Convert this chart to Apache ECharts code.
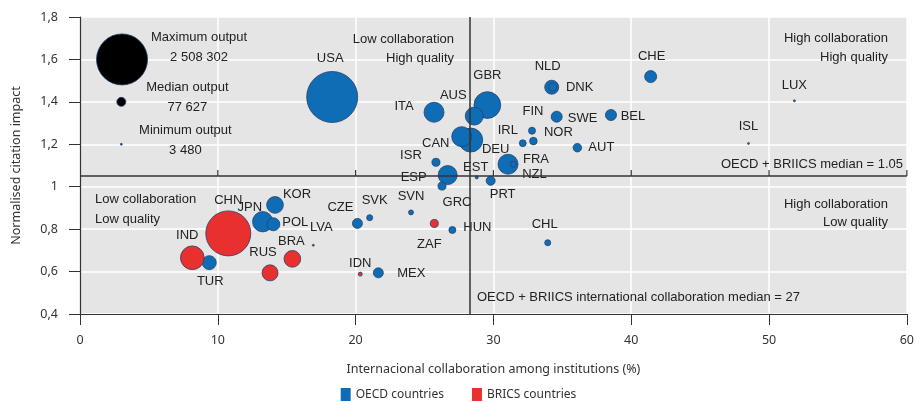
<!DOCTYPE html>
<html>
<head>
<meta charset="utf-8">
<script src="https://cdn.jsdelivr.net/npm/echarts@6/dist/echarts.min.js"></script>
<style>
  html, body { margin: 0; padding: 0; background: #fff; }
  #chart { width: 917px; height: 402px; }
</style>
</head>
<body>
<div id="chart"></div>
<script>
// x: international collaboration (%), y: normalised citation impact, output: number of documents
const oecdNames  = ['USA','GBR','DEU','JPN','FRA','ITA','CAN','ESP','AUS','KOR','TUR','NLD','POL','CHE','SWE','BEL','MEX','CZE','PRT','AUT','DNK','ISR','GRC','NOR','FIN','IRL','HUN','NZL','CHL','SVK','SVN','EST','LUX','ISL'];
const oecdX      = [18.3, 29.56, 28.35, 13.26, 31.06, 25.69, 27.7, 26.68, 28.61, 14.15, 9.38, 34.23, 14.03, 41.41, 34.59, 38.53, 21.65, 20.13, 29.8, 36.09, 34.3, 25.83, 26.27, 32.9, 32.8, 32.13, 27.02, 31.45, 33.94, 21.02, 24.02, 28.79, 51.84, 48.51];
const oecdY      = [1.423, 1.385, 1.22, 0.835, 1.106, 1.351, 1.236, 1.055, 1.333, 0.914, 0.642, 1.469, 0.823, 1.519, 1.33, 1.338, 0.594, 0.827, 1.028, 1.184, 1.469, 1.115, 1.003, 1.215, 1.264, 1.205, 0.796, 1.106, 0.736, 0.854, 0.879, 1.044, 1.405, 1.204];
const oecdOutput = [2508302, 687000, 555000, 400000, 386000, 386000, 386000, 348000, 312000, 269000, 189000, 189000, 163000, 139000, 117000, 117000, 96000, 96000, 78000, 70000, 62000, 62000, 62000, 55000, 47000, 45000, 47000, 35000, 35000, 35000, 24000, 8700, 3900, 3600];

const bricsNames  = ['CHN','IND','BRA','RUS','ZAF','IDN','LVA'];
const bricsX      = [10.76, 8.15, 15.41, 13.79, 25.71, 20.34, 16.93];
const bricsY      = [0.78, 0.665, 0.66, 0.594, 0.827, 0.588, 0.724];
const bricsOutput = [1953000, 542000, 269000, 247000, 62000, 15400, 3900];

const sizeNames  = ['Maximum output', 'Median output', 'Minimum output'];
const sizeValues = [2508302, 77627, 3480];
const sizeX      = [3.05, 3, 3];
const sizeY      = [1.6, 1.4, 1.2];

const medianImpact = 1.05;
const medianCollabLine = 28.3;
const xTicks = [10, 20, 30, 40, 50, 60];
const yTickLabels = {'0.4':'0,4','0.6':'0,6','0.8':'0,8','1':'1','1.2':'1,2','1.4':'1,4','1.6':'1,6','1.8':'1,8'};

// label offsets (px) from bubble centre
const labelOffsets = {
  USA:[-2,-39], ITA:[-30,-6], AUS:[-21,-21], GBR:[0,-30], NLD:[-4,-21], DNK:[27,0], CHE:[1,-20],
  LUX:[0,-15], FIN:[1,-19], SWE:[26,2], BEL:[22,1], IRL:[-15,-13], NOR:[25,-9], ISL:[0,-17],
  CAN:[-26,7], AUT:[24,0], ISR:[-25,-7], DEU:[25,9], FRA:[28,-5], NZL:[21,10], EST:[-1,-10],
  ESP:[-34,2], PRT:[12,14], GRC:[15,16], SVN:[0,-16], SVK:[5,-17], CZE:[-17,-16], HUN:[25,-3],
  ZAF:[-5,21], CHL:[-3,-18], IDN:[0,-11], MEX:[33,1], LVA:[8,-18], KOR:[22,-11], CHN:[0,-33],
  JPN:[-13,-14], POL:[22,-2], IND:[-5,-22], TUR:[1,19], RUS:[-7,-20], BRA:[-1,-17]
};

const maxOut = sizeValues[0];
const bubble = v => Math.max(1.6, 51 * Math.sqrt(v[2] / maxOut));
const labelFont = 'Liberation Sans';
const axisFont = 'Noto Sans';

function build(names, xs, ys, outs) {
  const rows = names.map((n, i) => [xs[i], ys[i], outs[i], n]);
  rows.sort((a, b) => b[2] - a[2]);
  return rows.map(r => ({
    value: r,
    label: { offset: labelOffsets[r[3]] || [0, 0] }
  }));
}

const countryLabel = {
  show: true,
  position: 'inside',
  formatter: p => p.value[3],
  fontFamily: labelFont,
  fontSize: 13,
  color: '#222'
};

// one graphic text per line, so right-aligned blocks stay right-aligned
const quadText = (pos, text) => Object.assign({
  type: 'text', z: 100,
  style: { text: text, fontFamily: labelFont, fontSize: 13, fill: '#222' }
}, pos);

const chart = echarts.init(document.getElementById('chart'));
chart.setOption({
  animation: false,
  grid: { left: 80, right: 10, top: 17, bottom: 88 },
  legend: {
    top: 383,
    left: 'center',
    icon: 'rect',
    itemWidth: 10,
    itemHeight: 13,
    itemGap: 28,
    itemStyle: { borderWidth: 0 },
    textStyle: { fontFamily: axisFont, fontSize: 12, color: '#333' },
    data: ['OECD countries', 'BRICS countries']
  },
  xAxis: {
    type: 'value', min: 0, max: 60, interval: 10,
    name: 'Internacional collaboration among institutions (%)',
    nameLocation: 'middle', nameGap: 49,
    nameTextStyle: { fontFamily: axisFont, fontSize: 12.5, color: '#333' },
    axisLine: { lineStyle: { color: '#333', width: 1.2 } },
    axisTick: { length: 11, lineStyle: { color: '#333' } },
    axisLabel: { margin: 20, fontFamily: axisFont, fontSize: 12.5, color: '#333' },
    splitLine: { lineStyle: { color: '#fff', width: 1.5 } }
  },
  yAxis: {
    type: 'value', min: 0.4, max: 1.8, interval: 0.2,
    name: 'Normalised citation impact',
    nameLocation: 'middle', nameGap: 57,
    nameTextStyle: { fontFamily: axisFont, fontSize: 12.5, color: '#333' },
    axisLine: { show: true, lineStyle: { color: '#333', width: 1.2 } },
    axisTick: { show: true, length: 11, lineStyle: { color: '#333' } },
    axisLabel: {
      margin: 22, fontFamily: axisFont, fontSize: 12.5, color: '#333',
      formatter: v => yTickLabels[String(Math.round(v * 10) / 10)] || String(v)
    },
    splitLine: { lineStyle: { color: '#fff', width: 1.5 } },
    splitArea: { show: true, areaStyle: { color: ['#e5e5e5'] } }
  },
  graphic: [
    quadText({ right: 463, top: 33 }, 'Low collaboration'),
    quadText({ right: 463, top: 52 }, 'High quality'),
    quadText({ right: 29, top: 32 }, 'High collaboration'),
    quadText({ right: 29, top: 51 }, 'High quality'),
    quadText({ right: 14, top: 158 }, 'OECD + BRIICS median = 1.05'),
    quadText({ left: 95, top: 193 }, 'Low collaboration'),
    quadText({ left: 95, top: 213 }, 'Low quality'),
    quadText({ right: 29, top: 198 }, 'High collaboration'),
    quadText({ right: 29, top: 216 }, 'Low quality'),
    quadText({ left: 477, top: 291 }, 'OECD + BRIICS international collaboration median = 27')
  ],
  series: [
    {
      name: 'Output size',
      type: 'scatter',
      data: sizeNames.map((n, i) => [sizeX[i], sizeY[i], sizeValues[i], n]),
      symbolSize: bubble,
      itemStyle: {
        color: p => (p.dataIndex === 2 ? '#2a5d95' : '#000'),
        borderColor: '#1c3a66', borderWidth: 0.8, opacity: 1
      },
      label: {
        show: true,
        position: 'inside',
        formatter: p => p.value[3] + '\n' + p.value[2].toLocaleString('fr-FR').replace(/\u202f|\u00a0/g, ' '),
        fontFamily: labelFont, fontSize: 13, lineHeight: 20, color: '#222'
      },
      labelLayout: p => {
        const offs = [[77, -12], [66, -4], [64, -4]];
        return { dx: offs[p.dataIndex][0], dy: offs[p.dataIndex][1] };
      },
      z: 3
    },
    {
      name: 'OECD countries',
      type: 'scatter',
      data: build(oecdNames, oecdX, oecdY, oecdOutput),
      symbolSize: bubble,
      itemStyle: { color: '#0f6db6', borderColor: '#26406b', borderWidth: 0.8, opacity: 1 },
      label: countryLabel,
      markLine: {
        silent: true,
        symbol: 'none',
        label: { show: false },
        lineStyle: { color: '#333', type: 'solid', width: 1.5 },
        data: [{ xAxis: medianCollabLine }, { yAxis: medianImpact }]
      },
      z: 4
    },
    {
      name: 'BRICS countries',
      type: 'scatter',
      data: build(bricsNames, bricsX, bricsY, bricsOutput),
      symbolSize: bubble,
      itemStyle: { color: '#e8302e', borderColor: '#26406b', borderWidth: 0.8, opacity: 1 },
      label: countryLabel,
      z: 4
    },
    {
      name: 'median ticks',
      type: 'scatter',
      data: xTicks.map(x => [x, medianImpact]),
      symbol: 'rect',
      symbolSize: [1.2, 6],
      symbolOffset: [0, -3],
      itemStyle: { color: '#333', opacity: 1 },
      silent: true,
      z: 2
    }
  ]
});
</script>
</body>
</html>
